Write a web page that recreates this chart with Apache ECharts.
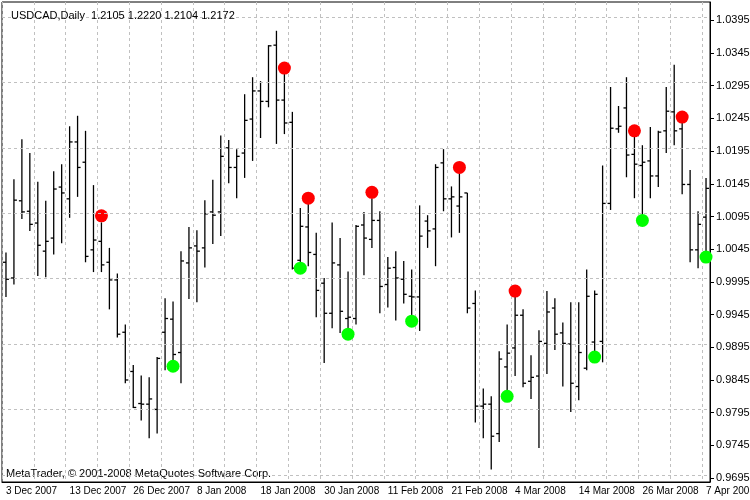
<!DOCTYPE html>
<html>
<head>
<meta charset="utf-8">
<script src="https://cdn.jsdelivr.net/npm/echarts@6/dist/echarts.min.js"></script>
<style>html,body{margin:0;background:#fff}#main{width:750px;height:500px}</style>
</head>
<body>
<div id="main"></div>
<script>
// daily bars, 3 Dec 2007 .. 7 Apr 2008 (weekdays, 25 Dec and 1 Jan missing)
var skipDays = ['2007-12-25', '2008-01-01'];
var opens  = [1.0025,1.0001,1.0119,1.0103,1.0085,1.0042,1.0062,1.0140,1.0122,1.0209,1.0178,1.0044,1.0057,1.0025,0.9998,0.9918,0.9858,0.9809,0.9808,0.9800,0.9918,0.9938,0.9887,1.0024,1.0050,1.0047,1.0102,1.0102,1.0200,1.0170,1.0192,1.0244,1.0287,1.0271,1.0357,1.0273,1.0239,1.0028,1.0079,1.0037,0.9993,0.9947,1.0021,0.9939,0.9939,1.0082,1.0060,1.0089,0.9991,1.0017,0.9999,0.9973,0.9972,1.0088,1.0076,1.0177,1.0122,1.0111,1.0131,0.9962,0.9805,0.9808,0.9763,0.9865,0.9894,0.9944,0.9843,0.9851,0.9901,0.9955,0.9917,0.9900,0.9835,0.9863,0.9903,0.9904,1.0115,1.0229,1.0261,1.0190,1.0173,1.0180,1.0157,1.0226,1.0255,1.0229,1.0144,1.0044,1.0094];
var highs  = [1.0040,1.0152,1.0213,1.0192,1.0148,1.0119,1.0164,1.0175,1.0233,1.0249,1.0226,1.0143,1.0086,1.0047,1.0008,0.9930,0.9868,0.9852,0.9849,0.9880,0.9970,0.9965,1.0042,1.0079,1.0074,1.0120,1.0151,1.0219,1.0212,1.0198,1.0282,1.0308,1.0302,1.0357,1.0379,1.0314,1.0255,1.0108,1.0115,1.0070,1.0001,1.0086,1.0062,1.0011,1.0082,1.0102,1.0123,1.0103,1.0033,1.0042,1.0027,1.0014,1.0112,1.0097,1.0175,1.0198,1.0141,1.0163,1.0131,0.9982,0.9832,0.9820,0.9889,0.9930,0.9972,0.9953,0.9883,0.9921,0.9981,0.9970,0.9933,0.9964,0.9964,1.0014,0.9982,1.0173,1.0293,1.0264,1.0308,1.0219,1.0204,1.0232,1.0226,1.0293,1.0327,1.0239,1.0166,1.0103,1.0154];
var lows   = [0.9972,0.9991,1.0091,1.0073,1.0004,1.0002,1.0037,1.0054,1.0093,1.0125,1.0025,1.0010,1.0010,0.9953,0.9910,0.9840,0.9802,0.9783,0.9756,0.9763,0.9860,0.9868,0.9840,0.9969,0.9964,1.0017,1.0053,1.0065,1.0146,1.0123,1.0154,1.0180,1.0215,1.0262,1.0206,1.0221,1.0014,1.0016,1.0019,0.9941,0.9871,0.9924,0.9917,0.9917,0.9930,1.0005,1.0047,0.9947,0.9956,0.9936,0.9962,0.9935,0.9920,1.0047,1.0019,1.0103,1.0063,1.0070,0.9947,0.9780,0.9756,0.9708,0.9750,0.9820,0.9851,0.9834,0.9816,0.9741,0.9854,0.9891,0.9835,0.9796,0.9814,0.9860,0.9880,0.9872,1.0105,1.0223,1.0155,1.0123,1.0089,1.0123,1.0140,1.0192,1.0204,1.0129,1.0025,1.0016,1.0028];
var closes = [0.9999,1.0120,1.0102,1.0083,1.0051,1.0057,1.0137,1.0131,1.0209,1.0170,1.0034,1.0059,1.0021,0.9998,0.9915,0.9845,0.9803,0.9808,0.9816,0.9878,0.9939,0.9884,1.0027,1.0047,1.0042,1.0099,1.0097,1.0187,1.0170,1.0187,1.0242,1.0287,1.0271,1.0356,1.0273,1.0238,1.0016,1.0080,1.0040,0.9982,0.9947,1.0024,0.9950,0.9941,1.0080,1.0062,1.0089,0.9988,1.0016,1.0001,0.9976,0.9972,1.0065,1.0073,1.0170,1.0122,1.0125,1.0125,0.9955,0.9805,0.9808,0.9759,0.9877,0.9886,0.9944,0.9840,0.9849,0.9904,0.9949,0.9915,0.9901,0.9840,0.9887,0.9973,0.9976,1.0115,1.0230,1.0233,1.0189,1.0175,1.0178,1.0157,1.0224,1.0256,1.0226,1.0144,1.0044,1.0083,1.0138];
var sellIdx = [12, 35, 38, 46, 57, 64, 79, 85];
var sellVal = [1.0096, 1.0322, 1.0123, 1.0132, 1.0170, 0.9981, 1.0226, 1.0247];
var buyIdx  = [21, 37, 43, 51, 63, 74, 80, 88];
var buyVal  = [0.9866, 1.0016, 0.9915, 0.9935, 0.9820, 0.9880, 1.0089, 1.0033];
var priceTicks = [0.9695,0.9745,0.9795,0.9845,0.9895,0.9945,0.9995,1.0045,1.0095,1.0145,1.0195,1.0245,1.0295,1.0345,1.0395];

var months = ['Jan','Feb','Mar','Apr','May','Jun','Jul','Aug','Sep','Oct','Nov','Dec'];
var days = [];
var d = new Date(Date.UTC(2007, 11, 3));
while (days.length < opens.length) {
	var iso = d.toISOString().slice(0, 10);
	var wd = d.getUTCDay();
	if (wd != 0 && wd != 6 && skipDays.indexOf(iso) < 0)
		days.push(d.getUTCDate() + ' ' + months[d.getUTCMonth()] + ' ' + d.getUTCFullYear());
	d = new Date(d.getTime() + 86400000);
}

var bars = [];
for (var i = 0; i < opens.length; i++) bars.push([i, opens[i], highs[i], lows[i], closes[i]]);
var sells = sellIdx.map(function (k, j) { return [k, sellVal[j]]; });
var buys = buyIdx.map(function (k, j) { return [k, buyVal[j]]; });

window.onload = function () {
	var myChart = echarts.init(document.getElementById('main'));
	myChart.setOption({
		backgroundColor: '#fff',
		animation: false,
		textStyle: { fontFamily: 'Liberation Sans' },
		title: {
			text: 'USDCAD,Daily  1.2105 1.2220 1.2104 1.2172',
			left: 6, top: 5,
			textStyle: { fontSize: 11, fontWeight: 'normal', color: '#000', fontFamily: 'Liberation Sans' }
		},
		graphic: [{
			type: 'text', left: 6, top: 468,
			style: { text: 'MetaTrader, © 2001-2008 MetaQuotes Software Corp.', fontSize: 11, fill: '#000', fontFamily: 'Liberation Sans' }
		}],
		grid: { left: 2, right: 40, top: 2, bottom: 18, outerBoundsMode: 'none', show: true, borderColor: '#000', borderWidth: 1 },
		xAxis: {
			type: 'category',
			data: days,
			axisLine: { lineStyle: { color: '#000' } },
			axisTick: { interval: 7, alignWithLabel: true, length: 3, lineStyle: { color: '#000' } },
			axisLabel: { interval: 7, align: 'left', margin: 4, fontSize: 10, color: '#000', hideOverlap: false },
			splitLine: { show: true, interval: 3, lineStyle: { color: '#c0c0c0', type: [3, 3] } }
		},
		yAxis: {
			type: 'value',
			position: 'right',
			min: 0.9689,
			max: 1.0423,
			axisLine: { show: true, lineStyle: { color: '#000' } },
			axisTick: { show: true, customValues: priceTicks, length: 4, lineStyle: { color: '#000' } },
			axisLabel: { customValues: priceTicks, fontSize: 11, color: '#000', margin: 6,
				formatter: function (v) { return v.toFixed(4); } },
			splitLine: { show: false }
		},
		series: [{
			type: 'custom',
			data: bars,
			renderItem: function (params, api) {
				var x = api.coord([api.value(0), api.value(1)])[0];
				var yo = api.coord([api.value(0), api.value(1)])[1];
				var yh = api.coord([api.value(0), api.value(2)])[1];
				var yl = api.coord([api.value(0), api.value(3)])[1];
				var yc = api.coord([api.value(0), api.value(4)])[1];
				var st = { stroke: '#000', lineWidth: 1.3 };
				return { type: 'group', children: [
					{ type: 'line', shape: { x1: x, y1: yh, x2: x, y2: yl }, style: st },
					{ type: 'line', shape: { x1: x - 3, y1: yo, x2: x, y2: yo }, style: st },
					{ type: 'line', shape: { x1: x, y1: yc, x2: x + 3, y2: yc }, style: st }
				] };
			},
			markLine: {
				silent: true, symbol: 'none', label: { show: false },
				lineStyle: { color: '#c0c0c0', type: [3, 3], width: 1 },
				data: priceTicks.map(function (v) { return { yAxis: v }; })
			},
			z: 3
		}, {
			type: 'scatter', data: sells, symbolSize: 13,
			itemStyle: { color: '#ff0000', opacity: 1 }, z: 4
		}, {
			type: 'scatter', data: buys, symbolSize: 13,
			itemStyle: { color: '#00ff00', opacity: 1 }, z: 4
		}]
	});
};
</script>
</body>
</html>
